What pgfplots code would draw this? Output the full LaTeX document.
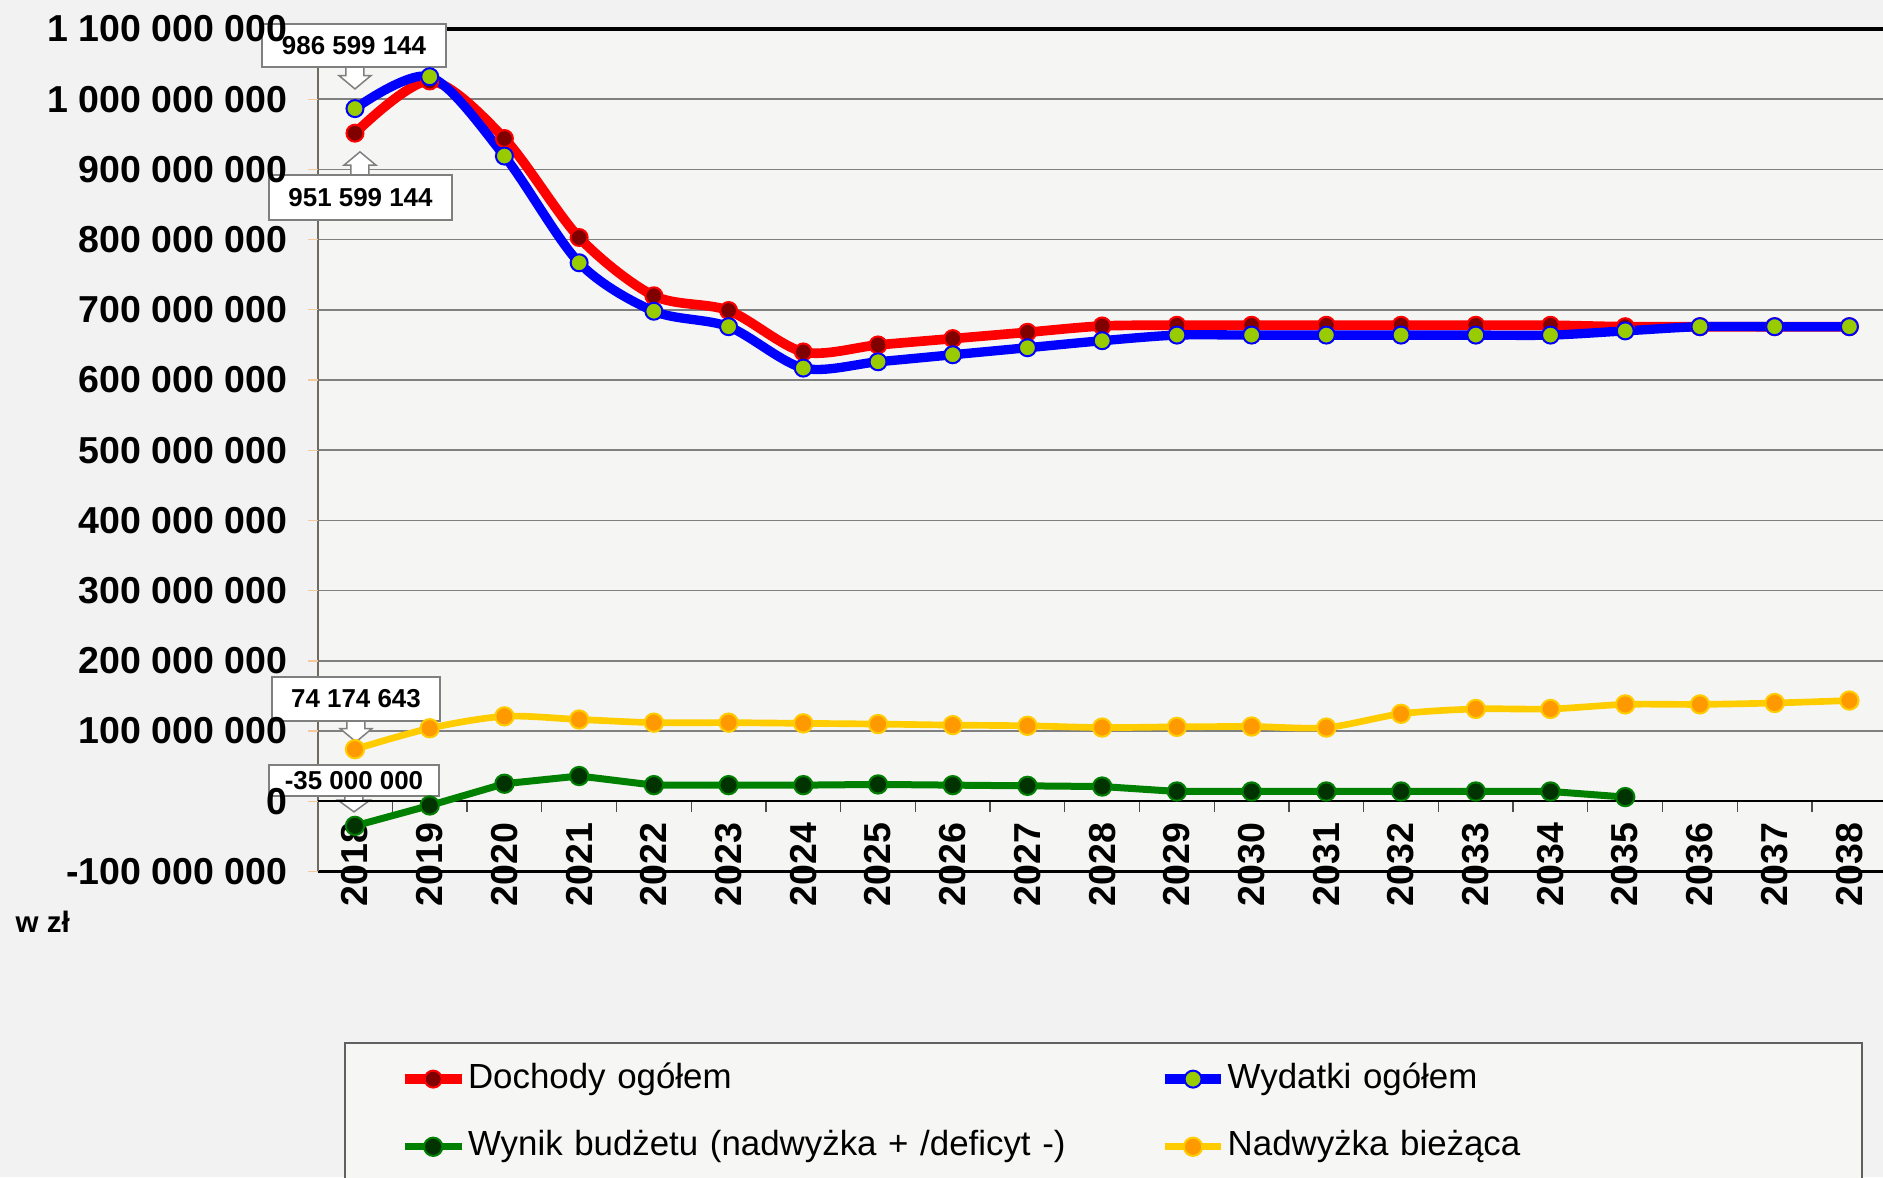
\documentclass[border=0pt]{standalone}
\usepackage{fontspec}
\setmainfont{Liberation Sans}
\usepackage{pgfplots}
\usepackage{pgfplotstable}
\pgfplotsset{compat=1.18}

\definecolor{bg}{HTML}{F2F2F2}
\definecolor{plotbg}{HTML}{F5F5F3}
\definecolor{legendbg}{HTML}{F6F6F4}
\definecolor{gridgray}{HTML}{808080}
\definecolor{axisgray}{HTML}{6E6A60}
\definecolor{ytickcol}{HTML}{F3C99A}
\definecolor{dochody}{HTML}{FF0000}
\definecolor{dochodymark}{HTML}{800000}
\definecolor{wydatki}{HTML}{0000FF}
\definecolor{wydatkimark}{HTML}{99CC00}
\definecolor{wynik}{HTML}{008000}
\definecolor{wynikmark}{HTML}{003300}
\definecolor{biezaca}{HTML}{FFCC00}
\definecolor{biezacamark}{HTML}{FF9900}
\definecolor{boxedge}{HTML}{7F7F7F}

% values in millions of zl
\pgfplotstableread{
rok  dochody    wydatki    wynik  biezaca
2018 951.599144 986.599144 -35    74.174643
2019 1026       1032       -6     104
2020 944        919        25     121
2021 803        767        36     116.5
2022 720        698        23     112
2023 699        676        23     112
2024 640        617        23     111
2025 650        626        24     110
2026 659        636        23     108.5
2027 668        646        22     107.5
2028 677        656        21     105
2029 678        664        14     106
2030 678        664        14     106.5
2031 678        664        14     105
2032 678        664        14     124.6
2033 678        664        14     131.5
2034 678        664        14     131.5
2035 676        670        6      138
2036 676        676        nan    138
2037 676        676        nan    140
2038 676        676        nan    143.5
}\dane

% hollow block arrows of the callouts
\newcommand\calldown[3]{%
  \draw[draw=boxedge, fill=white, line width=0.45bp]
    #1 -- ++(4.8bp,#2) -- ++(-2.1bp,0bp) -- ++(0bp,#3) -- ++(-5.4bp,0bp)
    -- ++(0bp,-#3) -- ++(-2.1bp,0bp) -- cycle;}
\newcommand\callup[3]{%
  \draw[draw=boxedge, fill=white, line width=0.45bp]
    #1 -- ++(4.8bp,-#2) -- ++(-2.1bp,0bp) -- ++(0bp,-#3) -- ++(-5.4bp,0bp)
    -- ++(0bp,#3) -- ++(-2.1bp,0bp) -- cycle;}

\pagecolor{bg}
\begin{document}
\begin{tikzpicture}
\begin{axis}[
  set layers,
  at={(95.4bp,91.65bp)}, anchor=south west,
  scale only axis, width=469.5bp, height=252.75bp,
  xmin=2017.505, xmax=2038.45, ymin=-100, ymax=1100,
  clip=false,
  axis background/.style={fill=plotbg},
  axis x line=middle, axis y line=left, axis line style={-},
  x axis line style={black, line width=0.6bp},
  y axis line style={draw=none},
  tick align=outside,
  xtick={2018,2019,...,2038},
  minor xtick={2018.5,2019.5,...,2037.5},
  major x tick style={draw=none},
  minor x tick style={black!70, line width=0.4bp},
  minor tick length=3.3bp,
  ytick={-100,0,100,...,1100},
  yticklabels={{-100 000 000},{0},{100 000 000},{200 000 000},{300 000 000},{400 000 000},{500 000 000},{600 000 000},{700 000 000},{800 000 000},{900 000 000},{1 000 000 000},{1 100 000 000}},
  major y tick style={draw=ytickcol, line width=0.4bp},
  major tick length=3bp,
  ymajorgrids, grid style={gridgray, line width=0.45bp},
  /pgf/number format/assume math mode=true,
  yticklabel style={font=\bfseries\fontsize{11.3}{13}\selectfont, anchor=east, xshift=-2.6bp},
  xticklabel style={font=\bfseries\fontsize{11.3}{13}\selectfont, rotate=90, anchor=east,
    /pgf/number format/1000 sep={}},
  legend columns=2,
  legend cell align=left,
  legend style={at={(0.0520,-0.2229)}, anchor=north west, draw=none, fill=none,
    font=\fontsize{10.5}{12}\selectfont, inner sep=0pt, column sep=0pt, row sep=8.8bp,
    nodes={inner sep=0.5bp, text height=8bp, text depth=2.5bp, text width=207.1bp, anchor=west}},
  legend image code/.code={\draw[mark repeat=2, mark phase=2, #1]
    plot coordinates {(0bp,0bp) (8.5bp,0bp) (17bp,0bp)};},
]
\addplot[dochody, line width=2.9bp, smooth, mark=*, mark size=2.55bp,
  mark options={fill=dochodymark, draw=dochody, line width=0.6bp}]
  table[x=rok, y=dochody] {\dane};
\addlegendentry{Dochody ogółem}
\addplot[wydatki, line width=2.8bp, smooth, mark=*, mark size=2.55bp,
  mark options={fill=wydatkimark, draw=wydatki, line width=0.6bp}]
  table[x=rok, y=wydatki] {\dane};
\addlegendentry{Wydatki ogółem}
\addplot[wynik, line width=2.1bp, mark=*, mark size=2.75bp,
  mark options={fill=wynikmark, draw=wynik, line width=0.6bp}]
  table[x=rok, y=wynik] {\dane};
\addlegendentry{Wynik budżetu (nadwyżka + /deficyt -)}
\addplot[biezaca, line width=2bp, smooth, mark=*, mark size=2.75bp,
  mark options={fill=biezacamark, draw=biezaca, line width=0.6bp}]
  table[x=rok, y=biezaca] {\dane};
\addlegendentry{Nadwyżka bieżąca}

\begin{pgfonlayer}{axis background}
\draw[draw=gray!75!black, fill=legendbg, line width=0.5bp]
  (rel axis cs:0.01725,-0.20356) rectangle (rel axis cs:0.98658,-0.4813);
\end{pgfonlayer}

\begin{pgfonlayer}{axis grid}
\draw[black, line width=1bp] (rel axis cs:0,1) -- (rel axis cs:1,1);
\draw[black, line width=1bp] (rel axis cs:0,0) -- (rel axis cs:1,0);
\draw[axisgray, line width=0.6bp] (rel axis cs:0,0) -- (rel axis cs:0,1);
\end{pgfonlayer}

\begin{pgfonlayer}{axis ticks}
\calldown{([yshift=5.9bp]axis cs:2018,986.599144)}{4bp}{2.6bp}
\node[draw=boxedge, fill=white, line width=0.45bp, minimum width=55.2bp, minimum height=12.9bp,
  inner sep=0pt, font=\bfseries\fontsize{7.8}{9}\selectfont]
  at ([xshift=-0.3bp,yshift=18.96bp]axis cs:2018,986.599144) {986 599 144};
\callup{([xshift=1.5bp,yshift=-5.6bp]axis cs:2018,951.599144)}{4bp}{2.9bp}
\node[draw=boxedge, fill=white, line width=0.45bp, minimum width=55bp, minimum height=13.5bp,
  inner sep=0pt, font=\bfseries\fontsize{7.8}{9}\selectfont]
  at ([xshift=1.65bp,yshift=-19.3bp]axis cs:2018,951.599144) {951 599 144};
\calldown{([xshift=0.3bp,yshift=2.2bp]axis cs:2018,74.174643)}{4bp}{2.3bp}
\node[draw=boxedge, fill=white, line width=0.45bp, minimum width=50.4bp, minimum height=13.2bp,
  inner sep=0pt, font=\bfseries\fontsize{7.8}{9}\selectfont]
  at ([xshift=0.3bp,yshift=15.1bp]axis cs:2018,74.174643) {74 174 643};
\calldown{([xshift=-0.3bp,yshift=4.2bp]axis cs:2018,-35)}{3.5bp}{1.3bp}
\node[draw=boxedge, fill=white, line width=0.45bp, minimum width=51bp, minimum height=9.3bp,
  inner sep=0pt, font=\bfseries\fontsize{7.8}{9}\selectfont]
  at ([xshift=-0.3bp,yshift=13.6bp]axis cs:2018,-35) {-35 000 000};
\end{pgfonlayer}
\end{axis}
\node[anchor=base west, font=\bfseries\fontsize{8.9}{10}\selectfont] at (1.2bp,73.2bp) {w zł};
\pgfresetboundingbox
\useasboundingbox (0bp,0bp) rectangle (564.9bp,353.1bp);
\end{tikzpicture}
\end{document}
